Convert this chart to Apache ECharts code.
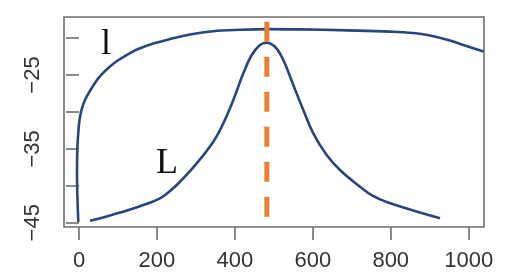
<!DOCTYPE html>
<html><head><meta charset="utf-8">
<script src="https://cdn.jsdelivr.net/npm/echarts@6/dist/echarts.min.js"></script>
<style>html,body{margin:0;padding:0;background:#fff}#c{width:515px;height:275px}</style>
</head><body><div id="c"></div>
<script>
// curve "l" (x, y)
const lX = [-1.8, -3.8, -5.1, -4.4, -1.3, 1.3, 6.4, 15.4, 29.5, 46.2, 56.5, 79.5, 97.5, 130.9, 156.5, 195.0, 233.5, 284.8, 343.9, 413.1, 482.4, 567.1, 687.7, 798.0, 857.1, 900.7, 952.0, 990.5, 1038];
const lY = [-44.90, -41.93, -38.68, -35.16, -32.45, -31.09, -29.74, -28.39, -27.03, -25.68, -25.00, -23.85, -23.10, -22.02, -21.38, -20.67, -20.13, -19.52, -19.07, -18.87, -18.78, -18.81, -18.95, -19.12, -19.31, -19.65, -20.33, -21.01, -21.82];
// curve "L" (x, y)
const LX = [28.2, 66.7, 105.2, 156.5, 207.9, 233.5, 259.2, 302.0, 344.6, 370.3, 396.0, 421.6, 443.2, 464.5, 479.9, 502.9, 524.3, 549.9, 575.6, 601.2, 635.6, 669.7, 721.1, 754.4, 789.6, 849.4, 926.4];
const LY = [-44.73, -44.21, -43.63, -42.78, -41.70, -40.71, -39.45, -36.96, -34.03, -31.54, -28.39, -24.77, -22.29, -20.94, -20.63, -21.17, -22.97, -26.35, -29.74, -32.89, -35.83, -37.86, -40.13, -41.38, -42.20, -43.21, -44.40];
// dashed vertical marker
const markX = [482, 482];
const markY = [-17.8, -44.2];
// axis ticks and labels
const xTicks = [0, 200, 400, 600, 800, 1000];
const yTicks = [-45, -40, -35, -30, -25, -20];
const yLabels = [-45, -35, -25];

const zip = (a, b) => a.map((v, i) => [v, b[i]]);
const chart = echarts.init(document.getElementById('c'), null, {renderer: 'canvas'});
const gray = '#6e6e6e';
const blue = '#27467f';
chart.setOption({
  animation: false,
  grid: {left: 64, top: 17, right: 31, bottom: 48, show: true, borderColor: gray, borderWidth: 1.6, backgroundColor: 'transparent'},
  xAxis: {
    type: 'value', min: -38.5, max: 1039.3,
    splitLine: {show: false},
    axisLine: {show: false},
    axisTick: {show: true, length: 13, lineStyle: {color: gray, width: 1.6}, customValues: xTicks},
    axisLabel: {customValues: xTicks, margin: 23, fontSize: 22, color: '#333', fontFamily: 'Liberation Sans',
      formatter: v => String(v)}
  },
  yAxis: {
    type: 'value', min: -45.58, max: -17.14,
    splitLine: {show: false},
    axisLine: {show: false},
    axisTick: {show: true, length: 13, lineStyle: {color: gray, width: 1.6}, customValues: yTicks},
    axisLabel: {customValues: yLabels, rotate: 90, margin: 20, fontSize: 22, color: '#333', fontFamily: 'Liberation Sans',
      formatter: v => String(v).replace('-', '\u2212')}
  },
  series: [
    {type: 'line', data: zip(lX, lY), showSymbol: false, smooth: 0.4, lineStyle: {color: blue, width: 2.6}, z: 3},
    {type: 'line', data: zip(LX, LY), showSymbol: false, smooth: 0.4, lineStyle: {color: blue, width: 2.6}, z: 3},
    {type: 'line', data: zip(markX, markY), showSymbol: false, lineStyle: {color: '#ED7D31', width: 5, type: [20, 15], cap: 'butt'}, z: 4}
  ],
  graphic: [
    {type: 'text', left: 101, top: 27, style: {text: 'l', font: '36px "Liberation Serif"', fill: '#111'}},
    {type: 'text', left: 156, top: 146, style: {text: 'L', font: '36px "Liberation Serif"', fill: '#111'}}
  ]
});
</script></body></html>
